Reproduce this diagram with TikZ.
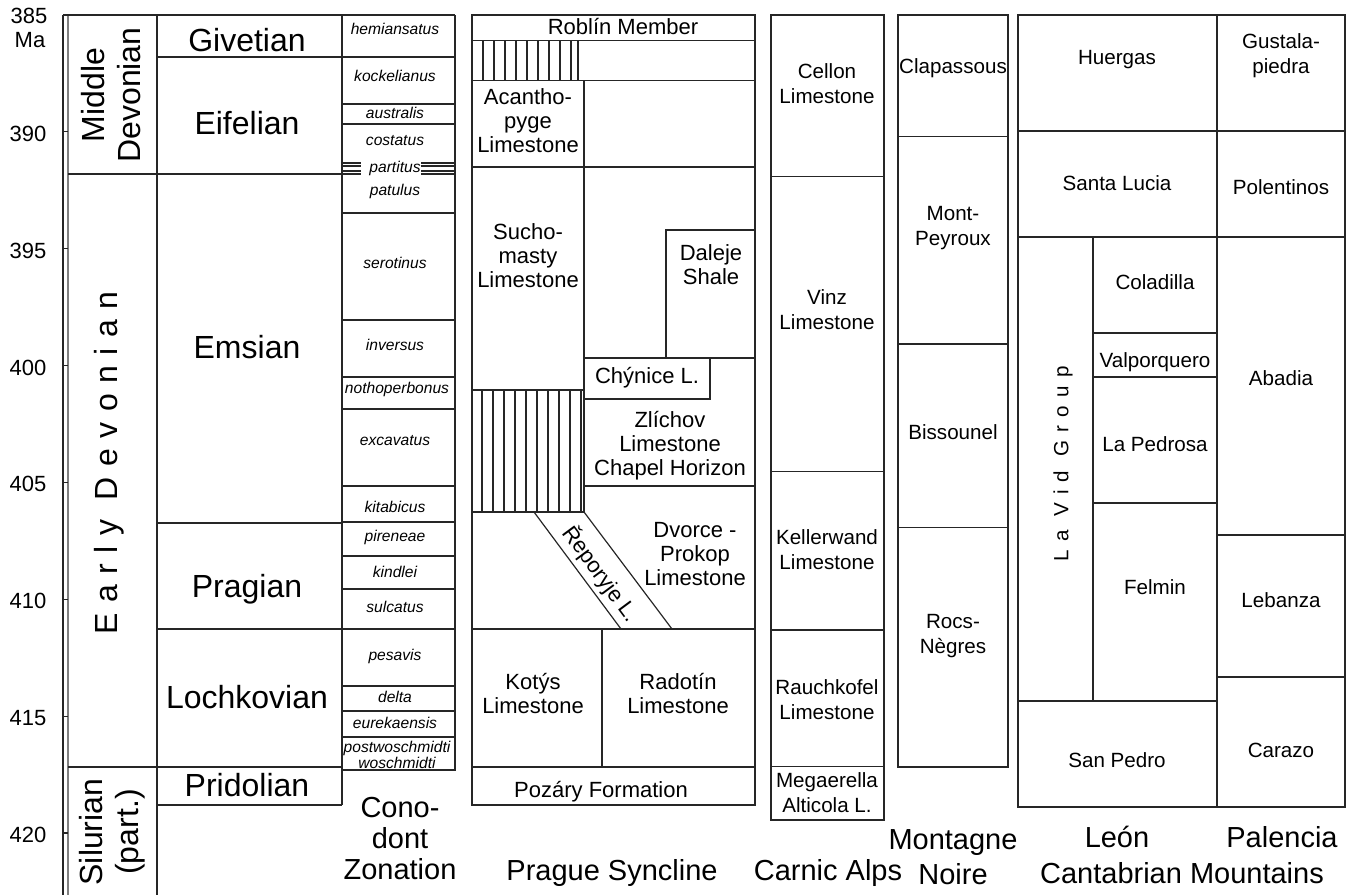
\documentclass[tikz,border=0pt]{standalone}
\usepackage{fontspec}
\setmainfont{Liberation Sans}

\begin{document}
\begin{tikzpicture}[x=0.5pt,y=-0.5pt,line width=0.6pt,draw=black!85,
  every node/.style={inner sep=0pt,align=center},
  period/.style={font=\fontsize{16}{18}\selectfont,rotate=90},
  stage/.style={font=\fontsize{16}{18}\selectfont},
  zone/.style={font=\fontsize{7.8}{6.6}\selectfont\itshape},
  unit/.style={font=\fontsize{10.3}{12.5}\selectfont},
  prg/.style={font=\fontsize{11}{12}\selectfont},
  region/.style={font=\fontsize{14.5}{15.5}\selectfont},
  age/.style={font=\fontsize{11}{12}\selectfont},
  hatch/.style={line width=0.9pt}]
\useasboundingbox (0,0) rectangle (1356,895);

% time axis, 385 to 420 Ma
\draw (63,15) -- (63,895);
\draw[gray] (68,15) -- (68,895);
\foreach \i in {1,...,7} \draw (63,{15+116.85*\i}) -- (68,{15+116.85*\i});
\node[age] (a385) at (29,16) {385};
\node[age] (ma) at (30,40) {Ma};
\foreach \t [count=\i from 1] in {390,395,...,420}
  \node[age,anchor=east] (a\t) at (47,{17+116.85*\i}) {\t};

% periods and stages
\draw (63,15) -- (455,15);
\draw (68,174) -- (157,174) (68,767) -- (157,767);
\draw (157,15) -- (157,895);
\draw (342,15) -- (342,805);
\foreach \y in {57,174,523,629,767,805} \draw (157,\y) -- (342,\y);

\node[period] (middev) at (111,95) {Middle\\Devonian};
\node[period] (earlydev) at (109,463) {\addfontfeature{LetterSpace=33}Early Devonian};
\node[period] (silurian) at (112,832) {Silurian\\(part.)};

\node[stage] (givetian) at (247,40) {Givetian};
\node[stage] (eifelian) at (247,123) {Eifelian};
\node[stage] (emsian) at (247,347) {Emsian};
\node[stage] (pragian) at (247,589) {Pragian};
\node[stage] (lochkovian) at (247,697) {Lochkovian};
\node[stage] (pridolian) at (247,785) {Pridolian};

% conodont zones
\draw (455,15) -- (455,770) -- (342,770);
\foreach \y in {57,104,124,213,320,377,409,486,522,556,589,629,686,711,737}
  \draw (342,\y) -- (455,\y);
\foreach \y in {163,166,171,174} \draw (342,\y) -- (361,\y) (421,\y) -- (455,\y);

\node[zone] (hemiansatus) at (395,29) {hemiansatus};
\node[zone] (kockelianus) at (395,76) {kockelianus};
\node[zone] (australis) at (395,113) {australis};
\node[zone] (costatus) at (395,141) {costatus};
\node[zone] (partitus) at (395,168) {partitus};
\node[zone] (patulus) at (395,191) {patulus};
\node[zone] (serotinus) at (395,263) {serotinus};
\node[zone] (inversus) at (395,345) {inversus};
\node[zone] (nothoperbonus) at (397,389) {nothoperbonus};
\node[zone] (excavatus) at (395,441) {excavatus};
\node[zone] (kitabicus) at (395,507) {kitabicus};
\node[zone] (pireneae) at (395,537) {pireneae};
\node[zone] (kindlei) at (395,572) {kindlei};
\node[zone] (sulcatus) at (395,607) {sulcatus};
\node[zone] (pesavis) at (395,656) {pesavis};
\node[zone] (delta) at (395,697) {delta};
\node[zone] (eurekaensis) at (395,723) {eurekaensis};
\node[zone] (woschmidti) at (397,755) {postwoschmidti\\woschmidti};

% Prague Syncline
\draw (472,15) rectangle (755,805);
\draw (472,40.7) -- (755,40.7) (472,80.7) -- (755,80.7) (472,167) -- (755,167);
\foreach \x in {483,494,...,571} \draw[hatch] (\x,40.7) -- (\x,80.7);
\draw[hatch] (578,40.7) -- (578,80.7);
\draw (584,80.7) -- (584,390);
\draw (472,390) -- (584,390) (472,512) -- (584,512);
\foreach \x in {482,493,...,581} \draw[hatch] (\x,390) -- (\x,512);
\draw[hatch] (584,390) -- (584,512);
\draw (666,358) -- (666,230) -- (755,230);
\draw (584,358) -- (755,358);
\draw (710,358) -- (710,399) -- (584,399);
\draw (584,486) -- (755,486);
\draw (534,512) -- (621,629) (584,512) -- (672,629);
\draw (472,629) -- (755,629) (602,629) -- (602,767) (472,767) -- (755,767);

\node[prg] (roblin) at (623,27) {Roblín Member};
\node[prg] (acanthopyge) at (528,121) {Acantho-\\pyge\\Limestone};
\node[prg] (suchomasty) at (528,256) {Sucho-\\masty\\Limestone};
\node[prg] (daleje) at (711,265) {Daleje\\Shale};
\node[prg] (chynice) at (647,378) {Chýnice L.};
\node[prg] (zlichov) at (670,446) {Zlíchov\\Limestone\\Chapel Horizon};
\node[prg] (dvorce) at (695,554) {Dvorce -\\Prokop\\Limestone};
\node[prg,rotate=-53.4] (reporyje) at (601,574) {Řeporyje L.};
\node[prg] (kotys) at (533,693) {Kotýs\\Limestone};
\node[prg] (radotin) at (678,693) {Radotín\\Limestone};
\node[prg] (pozary) at (601,792) {Pozáry Formation};

% Carnic Alps
\draw (771,15) rectangle (884,820);
\foreach \y in {176.7,471.7,630,766.7} \draw (771,\y) -- (884,\y);
\node[unit] (cellon) at (827,84) {Cellon\\Limestone};
\node[unit] (vinz) at (827,310) {Vinz\\Limestone};
\node[unit] (kellerwand) at (827,550) {Kellerwand\\Limestone};
\node[unit] (rauchkofel) at (827,700) {Rauchkofel\\Limestone};
\node[unit] (megaerella) at (827,793) {Megaerella\\Alticola L.};

% Montagne Noire
\draw (898,15) rectangle (1008,767);
\foreach \y in {136.7,344,527.7} \draw (898,\y) -- (1008,\y);
\node[unit] (clapassous) at (953,68) {Clapassous};
\node[unit] (montpeyroux) at (953,228) {Mont-\\Peyroux};
\node[unit] (bissounel) at (953,432) {Bissounel};
\node[unit] (rocsnegres) at (953,636) {Rocs-\\Nègres};

% Cantabrian Mountains
\draw (1018,15) rectangle (1345,807);
\draw (1217,15) -- (1217,807);
\draw (1018,131) -- (1345,131) (1018,237) -- (1345,237);
\draw (1093,237) -- (1093,701) (1018,701) -- (1217,701);
\foreach \y in {333,377,503} \draw (1093,\y) -- (1217,\y);
\foreach \y in {535,677} \draw (1217,\y) -- (1345,\y);

\node[unit,rotate=90] (lavid) at (1063,464) {\addfontfeature{LetterSpace=40}La Vid Group};
\node[unit] (huergas) at (1117,60) {Huergas};
\node[unit] (santalucia) at (1117,183) {Santa Lucia};
\node[unit] (coladilla) at (1155,282) {Coladilla};
\node[unit] (valporquero) at (1155,362) {Valporquero};
\node[unit] (lapedrosa) at (1155,444) {La Pedrosa};
\node[unit] (felmin) at (1155,587) {Felmin};
\node[unit] (sanpedro) at (1117,760) {San Pedro};
\node[unit] (gustalapiedra) at (1281,56) {Gustala-\\piedra};
\node[unit] (polentinos) at (1281,187) {Polentinos};
\node[unit] (abadia) at (1281,378) {Abadia};
\node[unit] (lebanza) at (1281,600) {Lebanza};
\node[unit] (carazo) at (1281,750) {Carazo};

% column titles
\node[region] (conodont) at (400,839) {Cono-\\dont\\Zonation};
\node[region,anchor=base] (prague) at (612,880) {Prague Syncline};
\node[region,anchor=base] (carnic) at (828,880) {Carnic Alps};
\node[region,font=\fontsize{14.5}{17.5}\selectfont] (montagne) at (953,857) {Montagne\\Noire};
\node[region,anchor=base] (leon) at (1117,847) {León};
\node[region,anchor=base] (palencia) at (1282,847) {Palencia};
\node[region,anchor=base] (cantabrian) at (1182,883) {Cantabrian Mountains};
\end{tikzpicture}
\end{document}
